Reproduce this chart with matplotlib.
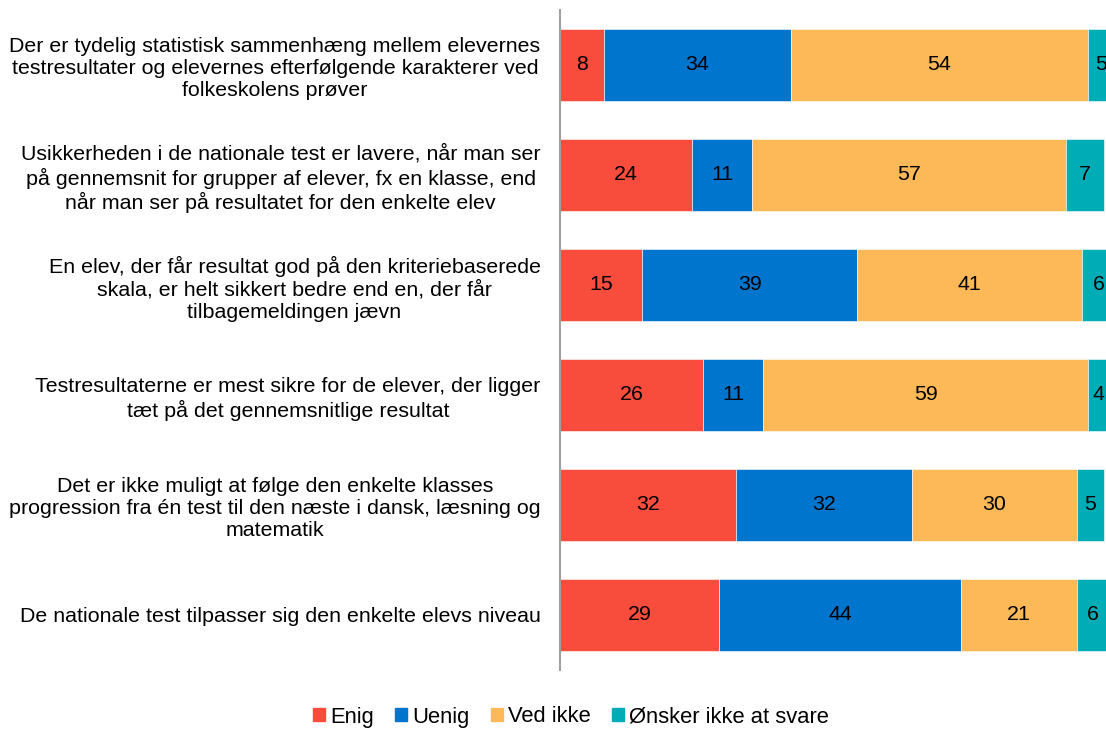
import matplotlib.pyplot as plt
from matplotlib.patches import Patch

plt.rcParams['font.family'] = ['Liberation Sans', 'DejaVu Sans']

statements = [
    'Der er tydelig statistisk sammenhæng mellem elevernes\ntestresultater og elevernes efterfølgende karakterer ved\nfolkeskolens prøver',
    'Usikkerheden i de nationale test er lavere, når man ser\npå gennemsnit for grupper af elever, fx en klasse, end\nnår man ser på resultatet for den enkelte elev',
    'En elev, der får resultat god på den kriteriebaserede\nskala, er helt sikkert bedre end en, der får\ntilbagemeldingen jævn',
    'Testresultaterne er mest sikre for de elever, der ligger\ntæt på det gennemsnitlige resultat',
    'Det er ikke muligt at følge den enkelte klasses\nprogression fra én test til den næste i dansk, læsning og\nmatematik',
    'De nationale test tilpasser sig den enkelte elevs niveau',
]
series = ['Enig', 'Uenig', 'Ved ikke', 'Ønsker ikke at svare']
enig = [8, 24, 15, 26, 32, 29]
uenig = [34, 11, 39, 11, 32, 44]
ved_ikke = [54, 57, 41, 59, 30, 21]
oensker = [5, 7, 6, 4, 5, 6]
colors = ['#F84C3C', '#0075CE', '#FDB858', '#00ADB7']

fs = 15.4

fig = plt.figure(figsize=(11.06, 7.29), dpi=100)
ax = fig.add_axes([560 / 1106, 1 - 670 / 729, 546 / 1106, 660 / 729])

y = list(range(len(statements)))
left = [0] * len(statements)
for name, vals, col in zip(series, [enig, uenig, ved_ikke, oensker], colors):
    bars = ax.barh(y, vals, left=left, height=0.66, color=col,
                   edgecolor='white', linewidth=0.4, label=name)
    for b, v in zip(bars, vals):
        ax.text(b.get_x() + b.get_width() / 2, b.get_y() + b.get_height() / 2,
                str(v), ha='center', va='center', fontsize=fs, color='black',
                clip_on=True)
    left = [l + v for l, v in zip(left, vals)]

ax.set_xlim(0, 99.3)
ax.set_ylim(len(statements) - 0.5, -0.5)
ax.set_yticks(y)
ax.set_yticklabels(statements, fontsize=fs, multialignment='center', linespacing=1.22)
ax.tick_params(axis='y', length=0, pad=14)
ax.set_xticks([])
for s in ['top', 'right', 'bottom']:
    ax.spines[s].set_visible(False)
ax.spines['left'].set_color('#A0A0A0')
ax.spines['left'].set_linewidth(1.5)

handles = [Patch(color=c, label=s) for s, c in zip(series, colors)]
fig.legend(handles=handles, loc='center', bbox_to_anchor=(571 / 1106, 1 - 717 / 729),
           ncol=4, frameon=False, fontsize=15.8, handlelength=0.55, handleheight=0.55,
           handletextpad=0.25, columnspacing=0.95)

fig.savefig('out.png', dpi=100)
